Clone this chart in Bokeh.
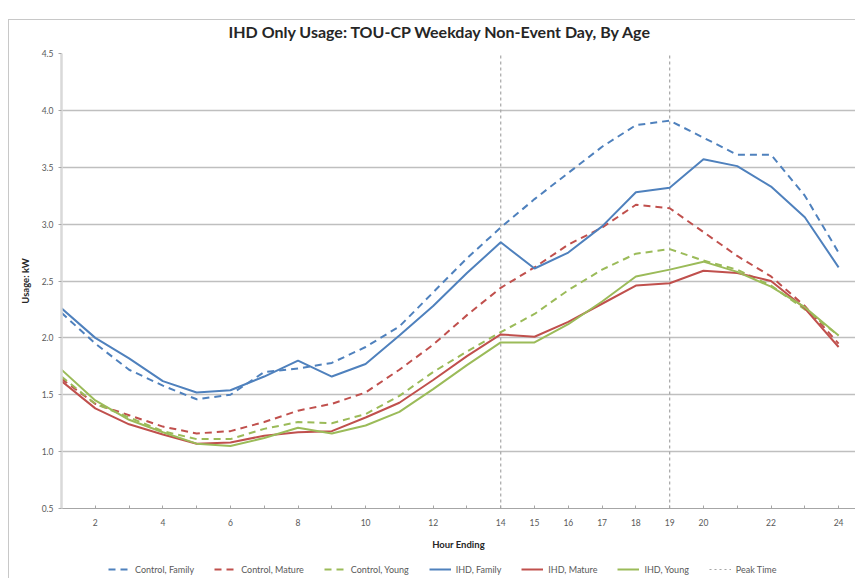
from bokeh.plotting import figure
from bokeh.layouts import column
from bokeh.models import (ColumnDataSource, FixedTicker, Legend, LegendItem, Range1d)
from bokeh.embed import file_html
from bokeh.resources import INLINE

hours = list(range(1, 25))
control_family = [2.22, 1.95, 1.72, 1.58, 1.46, 1.50, 1.70, 1.73, 1.78, 1.92, 2.10, 2.40,
                  2.70, 2.97, 3.22, 3.45, 3.68, 3.87, 3.91, 3.76, 3.61, 3.61, 3.25, 2.75]
control_mature = [1.64, 1.42, 1.32, 1.22, 1.16, 1.18, 1.26, 1.36, 1.42, 1.52, 1.72, 1.94,
                  2.20, 2.44, 2.62, 2.82, 2.97, 3.17, 3.14, 2.93, 2.72, 2.54, 2.28, 1.95]
control_young = [1.66, 1.42, 1.30, 1.18, 1.11, 1.11, 1.20, 1.26, 1.25, 1.33, 1.49, 1.70,
                 1.88, 2.05, 2.21, 2.42, 2.60, 2.74, 2.78, 2.68, 2.60, 2.46, 2.25, 2.02]
ihd_family = [2.26, 2.00, 1.82, 1.62, 1.52, 1.54, 1.66, 1.80, 1.66, 1.77, 2.02, 2.28,
              2.57, 2.84, 2.61, 2.75, 2.98, 3.28, 3.32, 3.57, 3.51, 3.33, 3.06, 2.62]
ihd_mature = [1.62, 1.38, 1.24, 1.15, 1.07, 1.08, 1.14, 1.17, 1.18, 1.30, 1.43, 1.63,
              1.84, 2.03, 2.01, 2.14, 2.30, 2.46, 2.48, 2.59, 2.57, 2.50, 2.26, 1.92]
ihd_young = [1.72, 1.45, 1.28, 1.17, 1.07, 1.05, 1.12, 1.21, 1.16, 1.23, 1.35, 1.55,
             1.76, 1.96, 1.96, 2.12, 2.32, 2.54, 2.60, 2.67, 2.58, 2.45, 2.27, 2.02]
peak_hours = [14, 19]
x_tick_marks = list(range(2, 25))
x_tick_labels = ["2", "4", "6", "8", "10", "12", "14", "15", "16", "17", "18", "19", "20", "22", "24"]
y_ticks = [0.5, 1.0, 1.5, 2.0, 2.5, 3.0, 3.5, 4.0, 4.5]
y_min, y_max = 0.5, 4.5

BLUE, RED, GREEN, GRAY = "#4F81BD", "#C0504D", "#9BBB59", "#A6A6A6"
FONT = "Lato"
DASH, PEAK_DASH = "7 5", "3 3"

p = figure(width=846, height=545, output_backend="svg", toolbar_location=None,
           x_range=Range1d(1, 24.5), y_range=Range1d(y_min, y_max),
           min_border_left=52, min_border_right=0, min_border_top=46, min_border_bottom=10,
           border_fill_color=None)

p.title.text = "IHD Only Usage: TOU-CP Weekday Non-Event Day, By Age"
p.title.text_font = FONT
p.title.text_font_size = "16px"
p.title.text_font_style = "bold"
p.title.text_color = "#262626"
p.title.align = "left"
p.title.offset = 167
p.title.standoff = 25

p.outline_line_color = None
p.xgrid.grid_line_color = None
p.ygrid.grid_line_color = "#BFBFBF"
p.ygrid.grid_line_width = 1.3

p.xaxis.ticker = FixedTicker(ticks=x_tick_marks)
p.xaxis.major_label_overrides = {t: (str(t) if str(t) in x_tick_labels else "")
                                 for t in x_tick_marks}
p.yaxis.ticker = FixedTicker(ticks=y_ticks)
p.yaxis.major_label_overrides = {t: f"{t:.1f}" for t in y_ticks}
for ax in (p.xaxis, p.yaxis):
    ax.major_label_text_font = FONT
    ax.major_label_text_font_size = "8.5px"
    ax.major_label_text_color = "#595959"
    ax.axis_label_text_font = FONT
    ax.axis_label_text_font_size = "9.5px"
    ax.axis_label_text_font_style = "bold"
    ax.axis_label_text_color = "#262626"
    ax.minor_tick_line_color = None
    ax.major_tick_line_color = "#A6A6A6"
p.xaxis.major_tick_in = 3
p.xaxis.major_tick_out = 0
p.yaxis.major_tick_in = 0
p.yaxis.major_tick_out = 3
p.xaxis.axis_line_color = "#A6A6A6"
p.yaxis.axis_line_color = "#D9D9D9"
p.yaxis.axis_line_width = 2.5
p.xaxis.axis_label = "Hour Ending"
p.yaxis.axis_label = "Usage: kW"
p.xaxis.major_label_standoff = 10
p.xaxis.axis_label_standoff = 10
p.yaxis.major_label_standoff = 5
p.yaxis.axis_label_standoff = 8

src = ColumnDataSource(dict(h=hours, cf=control_family, cm=control_mature, cy=control_young,
                            ifa=ihd_family, im=ihd_mature, iy=ihd_young))

p.multi_line(xs=[[h, h] for h in peak_hours], ys=[[y_min, y_max] for _ in peak_hours],
             color=GRAY, line_width=1.2, line_dash=PEAK_DASH)
p.line("h", "cf", source=src, color=BLUE, line_width=2, line_dash=DASH)
p.line("h", "cm", source=src, color=RED, line_width=2, line_dash=DASH)
p.line("h", "cy", source=src, color=GREEN, line_width=2, line_dash=DASH)
p.line("h", "ifa", source=src, color=BLUE, line_width=2)
p.line("h", "im", source=src, color=RED, line_width=2)
p.line("h", "iy", source=src, color=GREEN, line_width=2)

# legend strip below the chart (its lines fall outside its own ranges, only the keys show)
lg = figure(width=846, height=26, output_backend="svg", toolbar_location=None,
            x_range=Range1d(-2, -1), y_range=Range1d(-2, -1),
            min_border=0, outline_line_color=None, border_fill_color=None,
            background_fill_color=None)
lg.axis.visible = False
lg.grid.visible = False
specs = [("Control, Family", "cf", BLUE, DASH, 2), ("Control, Mature", "cm", RED, DASH, 2),
         ("Control, Young", "cy", GREEN, DASH, 2), ("IHD, Family", "ifa", BLUE, "solid", 2),
         ("IHD, Mature", "im", RED, "solid", 2), ("IHD, Young", "iy", GREEN, "solid", 2)]
items = []
for label, key, col, dash, w in specs:
    r = lg.line("h", key, source=src, color=col, line_width=w, line_dash=dash)
    items.append(LegendItem(label=label, renderers=[r]))
r2 = lg.line("h", "cf", source=src, color=GRAY, line_width=1.2, line_dash="2 3")
items.append(LegendItem(label="Peak Time", renderers=[r2]))
legend = Legend(items=items, orientation="horizontal", location=(47, 3))
legend.label_text_font = FONT
legend.label_text_font_size = "9px"
legend.label_text_color = "#595959"
legend.glyph_width = 22
legend.glyph_height = 12
legend.label_height = 12
legend.spacing = 20
legend.label_standoff = 5
legend.border_line_color = None
legend.background_fill_alpha = 0
legend.padding = 0
legend.margin = 0
lg.add_layout(legend, "center")

layout = column(p, lg, spacing=0, styles={
    "padding-left": "9px", "padding-top": "7px",
    "background": ("linear-gradient(#C8C8C8, #C8C8C8) 8px 19px / 1px 100% no-repeat, "
                   "linear-gradient(#C8C8C8, #C8C8C8) 8px 19px / 100% 1px no-repeat"),
})
open("out.html", "w").write(file_html(layout, INLINE))
